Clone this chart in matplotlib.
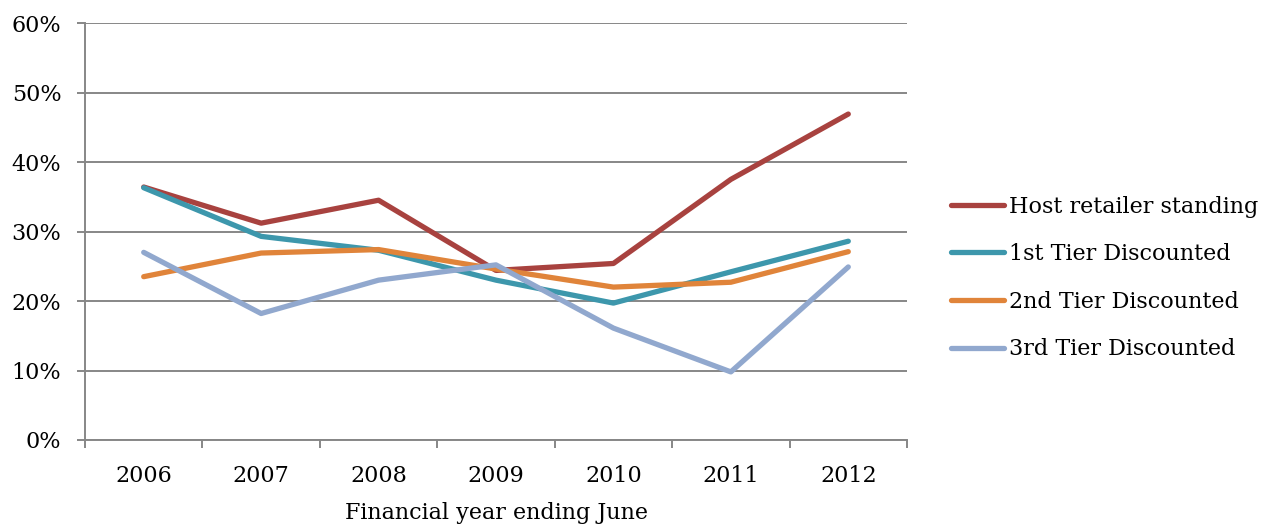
import numpy as np
import matplotlib.pyplot as plt
from matplotlib.ticker import FuncFormatter, FixedLocator

plt.rcParams['font.family'] = ['DejaVu Serif']

years = ['2006', '2007', '2008', '2009', '2010', '2011', '2012']
host = [36.4, 31.2, 34.5, 24.4, 25.4, 37.5, 46.9]
tier1 = [36.3, 29.3, 27.3, 23.0, 19.7, 24.2, 28.6]
tier2 = [23.5, 26.9, 27.4, 24.6, 22.0, 22.7, 27.1]
tier3 = [27.0, 18.2, 23.0, 25.2, 16.1, 9.8, 24.9]

series = [
    ('Host retailer standing', host, '#A8423F'),
    ('1st Tier Discounted', tier1, '#3D97AC'),
    ('2nd Tier Discounted', tier2, '#E0843A'),
    ('3rd Tier Discounted', tier3, '#91A8CE'),
]

W, H = 1265, 526
fs = 16
fig = plt.figure(figsize=(W / 100, H / 100), dpi=100)
ax = fig.add_axes([85 / W, 1 - 440 / H, (907 - 85) / W, (440 - 23) / H])

x = np.arange(len(years))
for name, vals, col in series:
    ax.plot(x, np.array(vals) / 100, color=col, lw=3.8, label=name,
            solid_capstyle='round', solid_joinstyle='round')

gray = '#878787'
ax.set_ylim(0, 0.6)
ax.set_xlim(-0.5, len(years) - 0.5)
ax.set_yticks(np.arange(0, 0.61, 0.1))
ax.yaxis.set_major_formatter(FuncFormatter(lambda v, p: f'{v * 100:.0f}%'))
ax.grid(axis='y', color=gray, lw=1.4)
ax.set_axisbelow(True)

ax.set_xticks(x)
ax.set_xticklabels(years)
ax.xaxis.set_minor_locator(FixedLocator(np.arange(-0.5, len(years), 1.0)))
ax.tick_params(axis='x', which='major', length=0, pad=18, labelsize=fs)
ax.tick_params(axis='x', which='minor', length=6, width=1.4, color=gray)
ax.tick_params(axis='y', length=6, width=1.4, color=gray, pad=11, labelsize=fs)

for s in ['top', 'right']:
    ax.spines[s].set_visible(False)
for s in ['left', 'bottom']:
    ax.spines[s].set_color(gray)
    ax.spines[s].set_linewidth(1.4)

ax.set_xlabel('Financial year ending June', fontsize=fs, labelpad=11)

fig.legend(loc='center left', bbox_to_anchor=(942 / W, 1 - 278 / H),
           frameon=False, fontsize=fs, handlelength=2.4, handletextpad=0.2,
           labelspacing=1.15, borderaxespad=0)

fig.savefig('out.png', dpi=100)
